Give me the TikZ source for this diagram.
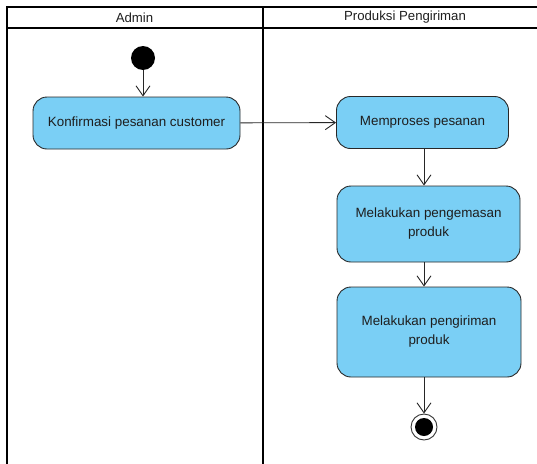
\documentclass[tikz,border=0pt]{standalone}
\usepackage{fontspec}
\setmainfont{Liberation Sans}
\usetikzlibrary{arrows.meta}
\definecolor{actfill}{RGB}{122,207,245}
\definecolor{actline}{RGB}{40,40,40}
\definecolor{acttext}{RGB}{30,30,30}
\tikzset{
  lane/.style={line width=2.6pt, draw=black},
  action/.style={draw=actline, line width=0.9pt, fill=actfill, rounded corners=14pt,
    align=center, text=acttext, font=\fontsize{13.4}{19}\selectfont, inner sep=0pt},
  flow/.style={draw=black!85, line width=0.9pt, -{Straight Barb[length=10pt,width=14pt,line width=0.9pt]}},
  lanetitle/.style={text=acttext, font=\fontsize{13.2}{15}\selectfont}
}
\begin{document}
\begin{tikzpicture}[x=1pt,y=-1pt]
\useasboundingbox (0,0) rectangle (537,463);
\begin{scope}
\clip (0,0) rectangle (537,463);
% swimlanes
\draw[lane] (7,475) -- (7,7) -- (560,7);
\draw[lane] (7,28) -- (560,28);
\draw[lane] (263,7) -- (263,475);
\end{scope}
\node[lanetitle] (tAdmin) at (134.5,17.5) {Admin};
\node[lanetitle] (tProd) at (405,17.5) {Produksi Pengiriman};

% start node
\node[circle, fill=black, minimum size=24pt, inner sep=0pt] (start) at (143,58) {};

% actions
\node[action, minimum width=207pt, minimum height=52pt] (konf) at (136.5,123) {Konfirmasi pesanan customer};
\node[action, minimum width=172pt, minimum height=52pt] (proses) at (422.5,122.5) {Memproses pesanan};
\node[action, minimum width=183pt, minimum height=76pt] (kemas) at (428.5,224) {Melakukan pengemasan\\produk};
\node[action, minimum width=184pt, minimum height=90pt] (kirim) at (429,332) {Melakukan pengiriman\\produk};

% final node
\node[circle, draw=black!80, line width=0.9pt, fill=white, minimum size=26pt, inner sep=0pt] (final) at (424,427) {};
\node[circle, fill=black, minimum size=18pt, inner sep=0pt] (finaldot) at (final) {};

% flows
\draw[flow] (start) -- (start |- konf.north);
\draw[flow] (konf) -- (proses);
\draw[flow] (proses.south -| 424,0) -- (kemas.north -| 424,0);
\draw[flow] (kemas.south -| 424,0) -- (kirim.north -| 424,0);
\draw[flow] (kirim.south -| 424,0) -- (final);
\end{tikzpicture}
\end{document}
